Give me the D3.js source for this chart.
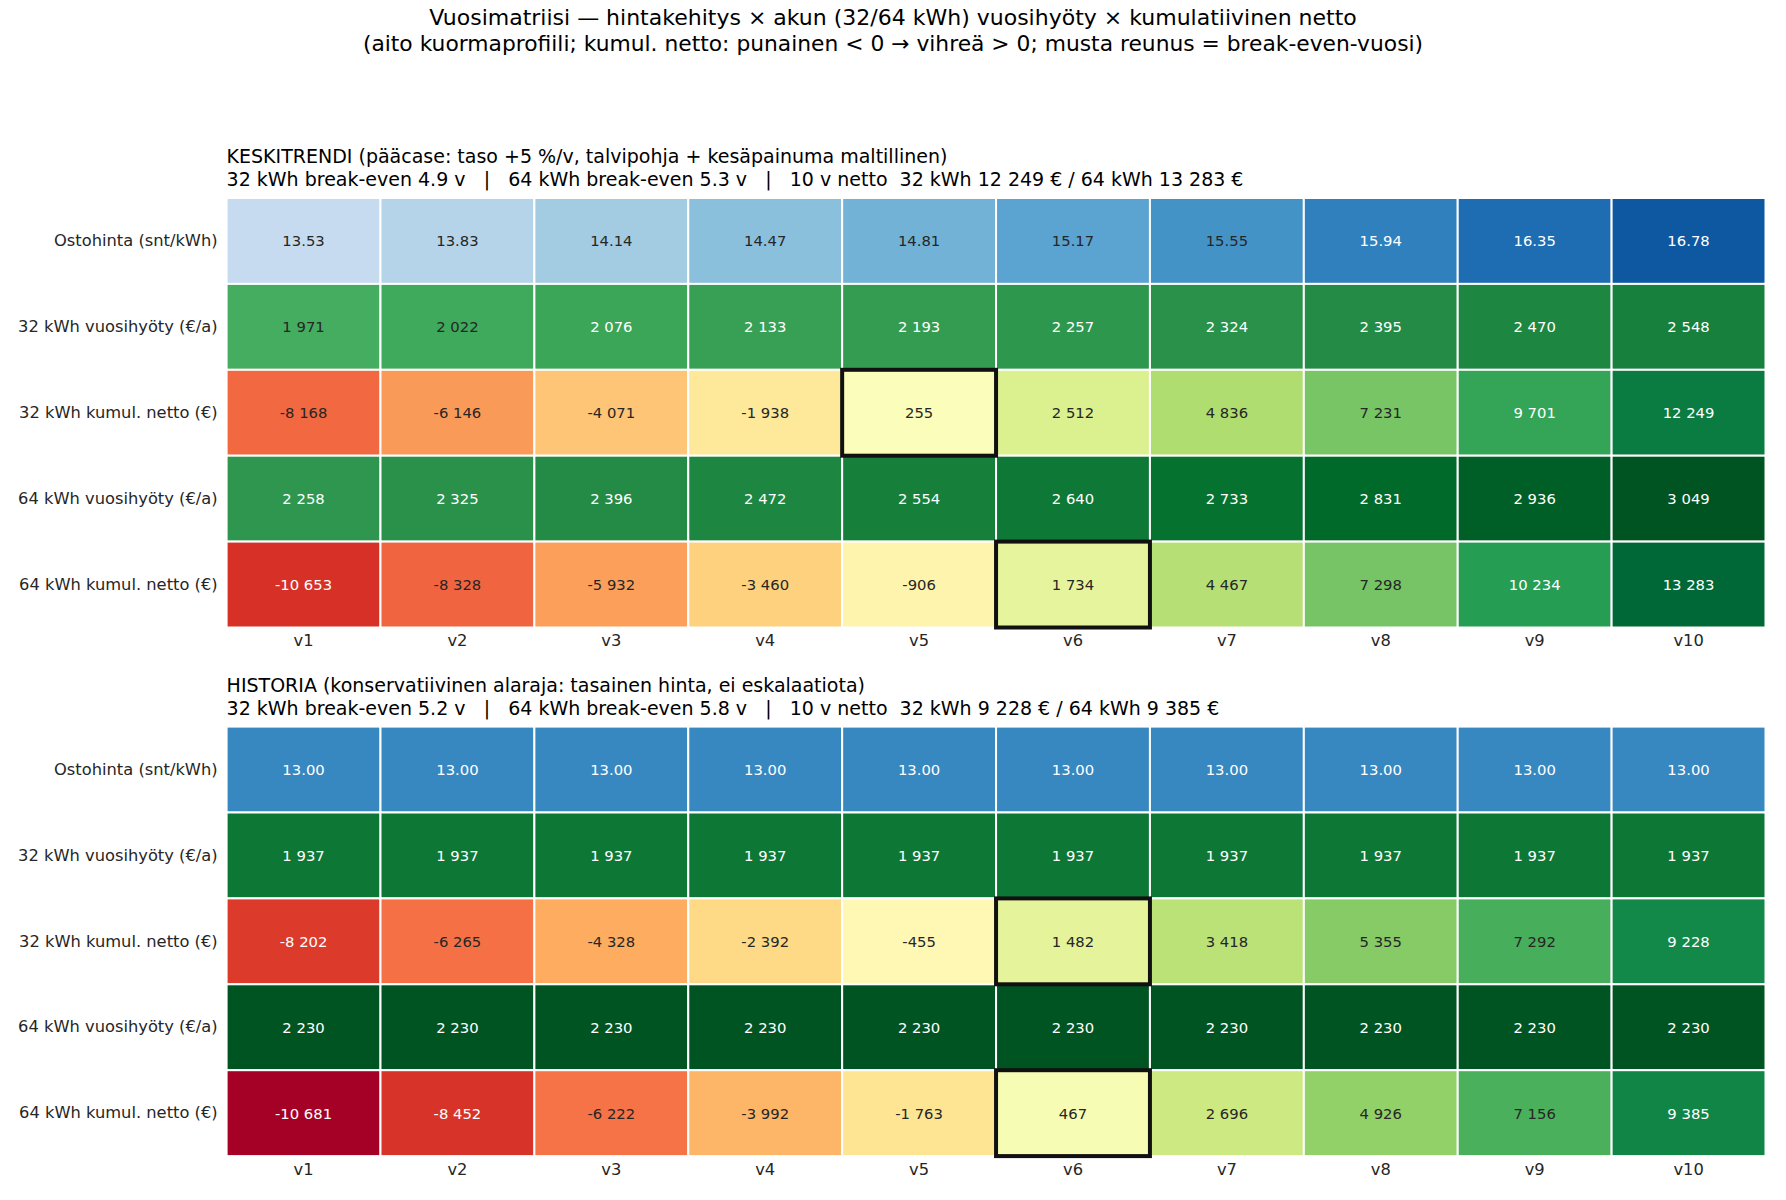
<!DOCTYPE html>
<html>
<head>
<meta charset="utf-8">
<script src="https://cdn.jsdelivr.net/npm/d3@7"></script>
<style>
  body { margin: 0; background: #fff; }
  svg { font-family: "DejaVu Sans", sans-serif; display: block; }
</style>
</head>
<body>
<svg id="chart"></svg>
<script>
// years on the x axis
const years = ["v1", "v2", "v3", "v4", "v5", "v6", "v7", "v8", "v9", "v10"]
const rowLabels = ["Ostohinta (snt/kWh)", "32 kWh vuosihyöty (€/a)", "32 kWh kumul. netto (€)",
                   "64 kWh vuosihyöty (€/a)", "64 kWh kumul. netto (€)"]
const rowKinds = ["price", "benefit", "net", "benefit", "net"]

// KESKITRENDI
const keskiPrice = [13.53, 13.83, 14.14, 14.47, 14.81, 15.17, 15.55, 15.94, 16.35, 16.78]
const keskiBen32 = [1971, 2022, 2076, 2133, 2193, 2257, 2324, 2395, 2470, 2548]
const keskiNet32 = [-8168, -6146, -4071, -1938, 255, 2512, 4836, 7231, 9701, 12249]
const keskiBen64 = [2258, 2325, 2396, 2472, 2554, 2640, 2733, 2831, 2936, 3049]
const keskiNet64 = [-10653, -8328, -5932, -3460, -906, 1734, 4467, 7298, 10234, 13283]
const keskiBreakEven = [4.9, 5.3]

// HISTORIA
const histPrice = [13.00, 13.00, 13.00, 13.00, 13.00, 13.00, 13.00, 13.00, 13.00, 13.00]
const histBen32 = [1937, 1937, 1937, 1937, 1937, 1937, 1937, 1937, 1937, 1937]
const histNet32 = [-8202, -6265, -4328, -2392, -455, 1482, 3418, 5355, 7292, 9228]
const histBen64 = [2230, 2230, 2230, 2230, 2230, 2230, 2230, 2230, 2230, 2230]
const histNet64 = [-10681, -8452, -6222, -3992, -1763, 467, 2696, 4926, 7156, 9385]
const histBreakEven = [5.2, 5.8]

const panels = [
  { title: "KESKITRENDI (pääcase: taso +5 %/v, talvipohja + kesäpainuma maltillinen)",
    rows: [keskiPrice, keskiBen32, keskiNet32, keskiBen64, keskiNet64], be: keskiBreakEven, top: 198 },
  { title: "HISTORIA (konservatiivinen alaraja: tasainen hinta, ei eskalaatiota)",
    rows: [histPrice, histBen32, histNet32, histBen64, histNet64], be: histBreakEven, top: 726.6 }
]

const width = 1786, height = 1200
const left = 226.6, right = 1765.5, panelH = 429.5

const svg = d3.select('#chart')
  .attr('width', width)
  .attr('height', height)

// colormaps like matplotlib (linear through the brewer colours)
const blues = d3.piecewise(d3.interpolateRgb, d3.schemeBlues[9])
const greens = d3.piecewise(d3.interpolateRgb, d3.schemeGreens[9])
const rdylgn = d3.piecewise(d3.interpolateRgb, d3.schemeRdYlGn[11])

// 1 971 style numbers
const fmtInt = v => d3.format(",.0f")(v).replace(/,/g, " ").replace("−", "-")

// suptitle
svg.append('text')
  .attr('x', width / 2).attr('y', 25)
  .attr('text-anchor', 'middle')
  .style('font-size', '22px')
  .text("Vuosimatriisi — hintakehitys × akun (32/64 kWh) vuosihyöty × kumulatiivinen netto")
svg.append('text')
  .attr('x', width / 2).attr('y', 51)
  .attr('text-anchor', 'middle')
  .style('font-size', '21.8px')
  .text("(aito kuormaprofiili; kumul. netto: punainen < 0 → vihreä > 0; musta reunus = break-even-vuosi)")

const x = d3.scaleBand().domain(years).range([left, right])

panels.forEach(p => {
  const y = d3.scaleBand().domain(rowLabels).range([p.top, p.top + panelH])
  const g = svg.append('g')

  // colour scales per panel
  const price = p.rows[0]
  const priceScale = d3.scaleLinear()
    .domain([d3.min(price) * 0.9, d3.max(price) * 1.05]).range([0, 1]).clamp(true)
  const benMax = d3.max([...p.rows[1], ...p.rows[3]])
  const benScale = d3.scaleLinear().domain([0, benMax * 1.05]).range([0, 1]).clamp(true)
  const netMax = d3.max([...p.rows[2], ...p.rows[4]].map(Math.abs))
  const netScale = d3.scaleLinear().domain([-netMax, netMax]).range([0, 1]).clamp(true)

  const cells = []
  p.rows.forEach((vals, r) => {
    const kind = rowKinds[r]
    vals.forEach((v, i) => {
      let t, fill, white
      if (kind === "price") { t = priceScale(v); fill = blues(t); white = t > 0.64 }
      else if (kind === "benefit") { t = benScale(v); fill = greens(t); white = t > 0.64 }
      else { t = netScale(v); fill = rdylgn(t); white = t < 0.15 || t > 0.85 }
      cells.push({ row: rowLabels[r], year: years[i], v, kind, fill, white })
    })
  })

  g.selectAll('rect.cell')
    .data(cells)
    .join('rect')
    .attr('class', 'cell')
    .attr('x', d => x(d.year))
    .attr('y', d => y(d.row))
    .attr('width', x.bandwidth())
    .attr('height', y.bandwidth())
    .attr('fill', d => d.fill)
    .attr('stroke', '#fff')
    .attr('stroke-width', 2)

  g.selectAll('text.val')
    .data(cells)
    .join('text')
    .attr('class', 'val')
    .attr('x', d => x(d.year) + x.bandwidth() / 2)
    .attr('y', d => y(d.row) + y.bandwidth() / 2)
    .attr('text-anchor', 'middle')
    .attr('dominant-baseline', 'central')
    .style('font-size', '14.8px')
    .attr('fill', d => d.white ? '#fff' : '#262626')
    .text(d => d.kind === "price" ? d.v.toFixed(2) : fmtInt(d.v))

  // break-even year: first positive cumulative net
  const beCells = [2, 4].map(r => ({ row: rowLabels[r], year: years[p.rows[r].findIndex(v => v > 0)] }))
  g.selectAll('rect.be')
    .data(beCells)
    .join('rect')
    .attr('class', 'be')
    .attr('x', d => x(d.year))
    .attr('y', d => y(d.row))
    .attr('width', x.bandwidth())
    .attr('height', y.bandwidth())
    .attr('fill', 'none')
    .attr('stroke', '#111')
    .attr('stroke-width', 4)

  // axes
  const ya = g.append('g')
    .attr('transform', `translate(${left},0)`)
    .call(d3.axisLeft(y).tickSize(0).tickPadding(9))
  const xa = g.append('g')
    .attr('transform', `translate(0,${p.top + panelH})`)
    .call(d3.axisBottom(x).tickSize(0).tickPadding(7))
  ;[ya, xa].forEach(a => {
    a.select('.domain').remove()
    a.selectAll('text').style('font-size', '16.3px').style('font-family', '"DejaVu Sans", sans-serif').attr('fill', '#262626')
  })

  // panel header
  const last32 = p.rows[2][p.rows[2].length - 1]
  const last64 = p.rows[4][p.rows[4].length - 1]
  svg.append('text')
    .attr('x', left).attr('y', p.top - 35)
    .style('font-size', '19px')
    .text(p.title)
  svg.append('text')
    .attr('x', left).attr('y', p.top - 12)
    .style('font-size', '19px')
    .style('white-space', 'pre')
    .text(`32 kWh break-even ${p.be[0].toFixed(1)} v   |   64 kWh break-even ${p.be[1].toFixed(1)} v   |   10 v netto  32 kWh ${fmtInt(last32)} € / 64 kWh ${fmtInt(last64)} €`)
})
</script>
</body>
</html>
